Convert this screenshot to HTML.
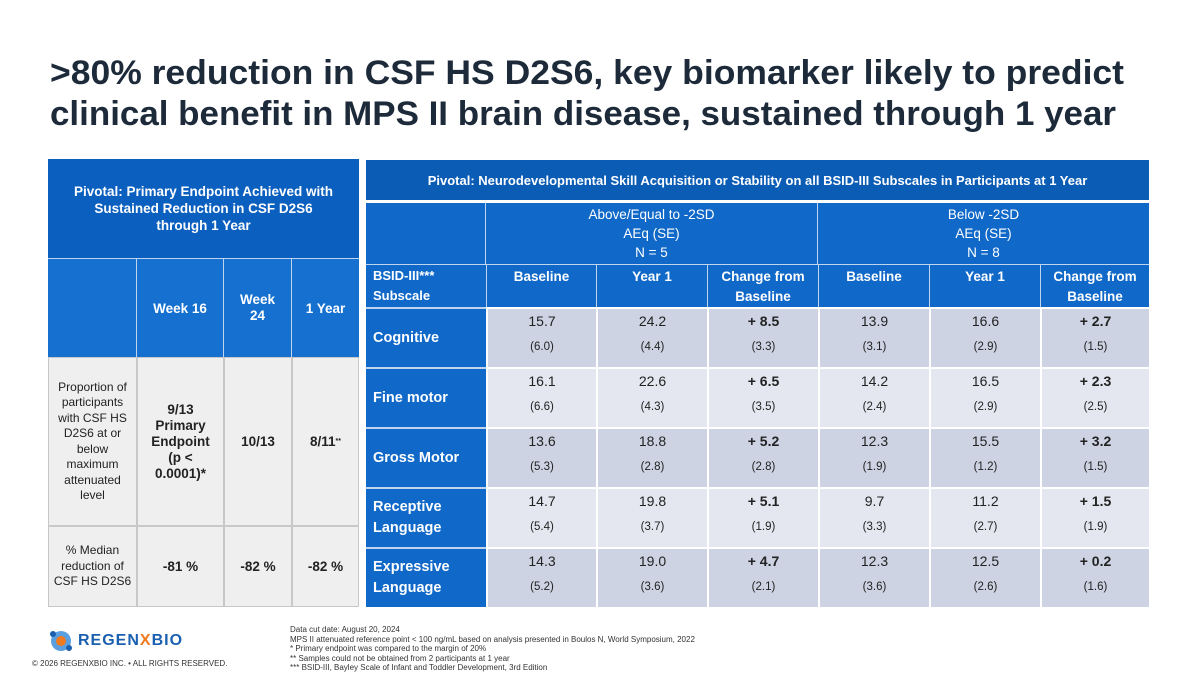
<!DOCTYPE html>
<html><head><meta charset="utf-8">
<style>
*{box-sizing:border-box;margin:0;padding:0}
body{width:1199px;height:676px;background:#fff;position:relative;overflow:hidden;font-family:"Liberation Sans",sans-serif;color:#1d2a3a}
.a{position:absolute;display:flex;align-items:center;justify-content:center;text-align:center}
.hd{color:#fff;font-weight:bold}
.lb{background:#efefef;border:1px solid #c8c8c8;color:#222}
.foot{position:absolute;font-size:8px;color:#333;line-height:9.5px}
</style></head>
<body>
<svg style="position:absolute;left:0;top:0" width="1199" height="140">
<text x="50" y="84" textLength="1074" lengthAdjust="spacingAndGlyphs" font-family="Liberation Sans" font-weight="bold" font-size="34" fill="#1d2a3a">&gt;80% reduction in CSF HS D2S6, key biomarker likely to predict</text>
<text x="50" y="125" textLength="1066" lengthAdjust="spacingAndGlyphs" font-family="Liberation Sans" font-weight="bold" font-size="34" fill="#1d2a3a">clinical benefit in MPS II brain disease, sustained through 1 year</text>
</svg>

<!-- left table -->
<div>
<div class="a hd" style="left:48px;top:159px;width:311px;height:99px;background:#0b5fbf;font-size:13.5px;line-height:17px;padding:0 4px">Pivotal: Primary Endpoint Achieved with<br>Sustained Reduction in CSF D2S6<br>through 1 Year</div>
<div class="a hd" style="left:48px;top:258px;width:89px;height:99px;background:#1570d0;border-right:1px solid #c0d4ee;border-top:1px solid #c0d4ee"></div>
<div class="a hd" style="left:137px;top:258px;width:87px;height:99px;background:#1570d0;font-size:13.5px;border-right:1px solid #c0d4ee;border-top:1px solid #c0d4ee">Week 16</div>
<div class="a hd" style="left:224px;top:258px;width:68px;height:99px;background:#1570d0;font-size:13.5px;line-height:16px;border-right:1px solid #c0d4ee;border-top:1px solid #c0d4ee">Week<br>24</div>
<div class="a hd" style="left:292px;top:258px;width:67px;height:99px;background:#1570d0;font-size:13.5px;border-top:1px solid #c0d4ee">1 Year</div>
<div class="a lb" style="left:48px;top:357px;width:89px;height:169px;font-size:12px;line-height:15.5px;padding:0 3px">Proportion of<br>participants<br>with CSF HS<br>D2S6 at or<br>below<br>maximum<br>attenuated<br>level</div>
<div class="a lb" style="left:137px;top:357px;width:87px;height:169px;font-size:13.5px;font-weight:bold;line-height:16px">9/13<br>Primary<br>Endpoint<br>(p &lt;<br>0.0001)*</div>
<div class="a lb" style="left:224px;top:357px;width:68px;height:169px;font-size:13.5px;font-weight:bold">10/13</div>
<div class="a lb" style="left:292px;top:357px;width:67px;height:169px;font-size:13.5px;font-weight:bold">8/11<sup style="font-size:7px">**</sup></div>
<div class="a lb" style="left:48px;top:526px;width:89px;height:81px;font-size:12px;line-height:15.5px">% Median<br>reduction of<br>CSF HS D2S6</div>
<div class="a lb" style="left:137px;top:526px;width:87px;height:81px;font-size:13.5px;font-weight:bold">-81 %</div>
<div class="a lb" style="left:224px;top:526px;width:68px;height:81px;font-size:13.5px;font-weight:bold">-82 %</div>
<div class="a lb" style="left:292px;top:526px;width:67px;height:81px;font-size:13.5px;font-weight:bold">-82 %</div>
</div>

<!-- right table -->
<div id="rt">
<div class="a hd" style="left:366px;top:160px;width:783px;height:40px;background:#0b5cb5;font-size:13px">Pivotal: Neurodevelopmental Skill Acquisition or Stability on all BSID-III Subscales in Participants at 1 Year</div>
<div class="a hd" style="left:366px;top:203px;width:120px;height:61px;background:#1068c8;border-right:1px solid #c0d4ee"></div>
<div class="a hd" style="left:486px;top:203px;width:332px;height:61px;background:#1068c8;font-weight:normal;font-size:13.5px;line-height:19px;border-right:1px solid #c0d4ee">Above/Equal to -2SD<br>AEq (SE)<br>N = 5</div>
<div class="a hd" style="left:818px;top:203px;width:331px;height:61px;background:#1068c8;font-weight:normal;font-size:13.5px;line-height:19px">Below -2SD<br>AEq (SE)<br>N = 8</div>
<div class="a hd" style="left:366px;top:264px;width:120px;height:43px;background:#1068c8;font-size:13px;line-height:20px;justify-content:flex-start;padding-left:7px;text-align:left;border-top:1px solid #c0d4ee">BSID-III***<br>Subscale</div>
</div>

<div class="foot" style="left:290px;top:625px">Data cut date: August 20, 2024<br>MPS II attenuated reference point &lt; 100 ng/mL based on analysis presented in Boulos N, World Symposium, 2022<br>* Primary endpoint was compared to the margin of 20%<br>** Samples could not be obtained from 2 participants at 1 year<br>*** BSID-III, Bayley Scale of Infant and Toddler Development, 3rd Edition</div>
<div style="position:absolute;left:48px;top:629px;width:160px;height:24px">
<svg width="26" height="24" style="position:absolute;left:0;top:0"><circle cx="13" cy="12" r="10" fill="#5aa0e0"/><circle cx="13" cy="12" r="5" fill="#f07a20"/><circle cx="5" cy="5" r="3" fill="#1a5fb0"/><circle cx="21" cy="19" r="3" fill="#1a5fb0"/></svg>
<span style="position:absolute;left:30px;top:3px;font-size:16px;font-weight:bold;color:#1a5fb0;letter-spacing:1px">REGEN<span style="color:#f07a20">X</span>BIO</span>
</div>
<div class="foot" style="left:32px;top:659px;font-size:8px">© 2026 REGENXBIO INC. • ALL RIGHTS RESERVED.</div>

<script>
const colHeaders = ["Baseline","Year 1","Change from Baseline","Baseline","Year 1","Change from Baseline"];
const subscales = ["Cognitive","Fine motor","Gross Motor","Receptive Language","Expressive Language"];
const aboveBaseline = [15.7,16.1,13.6,14.7,14.3];
const aboveBaselineSE = [6.0,6.6,5.3,5.4,5.2];
const aboveYear1 = [24.2,22.6,18.8,19.8,19.0];
const aboveYear1SE = [4.4,4.3,2.8,3.7,3.6];
const aboveChange = [8.5,6.5,5.2,5.1,4.7];
const aboveChangeSE = [3.3,3.5,2.8,1.9,2.1];
const belowBaseline = [13.9,14.2,12.3,9.7,12.3];
const belowBaselineSE = [3.1,2.4,1.9,3.3,3.6];
const belowYear1 = [16.6,16.5,15.5,11.2,12.5];
const belowYear1SE = [2.9,2.9,1.2,2.7,2.6];
const belowChange = [2.7,2.3,3.2,1.5,0.2];
const belowChangeSE = [1.5,2.5,1.5,1.9,1.6];

const rt = document.getElementById('rt');
const colX = [486,596,707,818,929,1040,1149];
function mk(style, html){
  const d = document.createElement('div');
  d.className = 'a';
  d.style.cssText = style;
  d.innerHTML = html;
  rt.appendChild(d);
  return d;
}
colHeaders.forEach((h,i)=>{
  const d = mk(`left:${colX[i]}px;top:264px;width:${colX[i+1]-colX[i]}px;height:43px;background:#1068c8;color:#fff;font-weight:bold;font-size:13.5px;line-height:20px;align-items:flex-start;padding-top:2px;border-left:1px solid #c0d4ee;border-top:1px solid #c0d4ee`, h);
  
  
});
const cols = [
  [aboveBaseline,aboveBaselineSE,false],[aboveYear1,aboveYear1SE,false],[aboveChange,aboveChangeSE,true],
  [belowBaseline,belowBaselineSE,false],[belowYear1,belowYear1SE,false],[belowChange,belowChangeSE,true]
];
subscales.forEach((s,r)=>{
  const top = 307 + r*60;
  const bg = r%2===0 ? '#cdd3e3' : '#e4e7f0';
  const label = s.indexOf('Language') >= 0 ? s.replace(' ','<br>') : s;
  const lab = mk(`left:366px;top:${top}px;width:120px;height:60px;background:#1068c8;color:#fff;font-weight:bold;font-size:14.5px;line-height:21px;justify-content:flex-start;text-align:left;padding-left:7px;border-top:2px solid #c0d4ee`, label);
  
  
  cols.forEach((c,i)=>{
    const v = c[0][r], se = c[1][r];
    const txt = c[2] ? '+ ' + v.toFixed(1) : v.toFixed(1);
    const cell = mk(`left:${colX[i]}px;top:${top}px;width:${colX[i+1]-colX[i]}px;height:60px;background:${bg};border-left:2px solid #fff;border-top:2px solid #fff;flex-direction:column;justify-content:flex-start;color:#222`,
      `<div style="font-size:14px;margin-top:4px;${c[2]?'font-weight:bold':''}">${txt}</div><div style="font-size:11.5px;margin-top:12px">(${se.toFixed(1)})</div>`);
    
    
  });
});
</script>
</body></html>
